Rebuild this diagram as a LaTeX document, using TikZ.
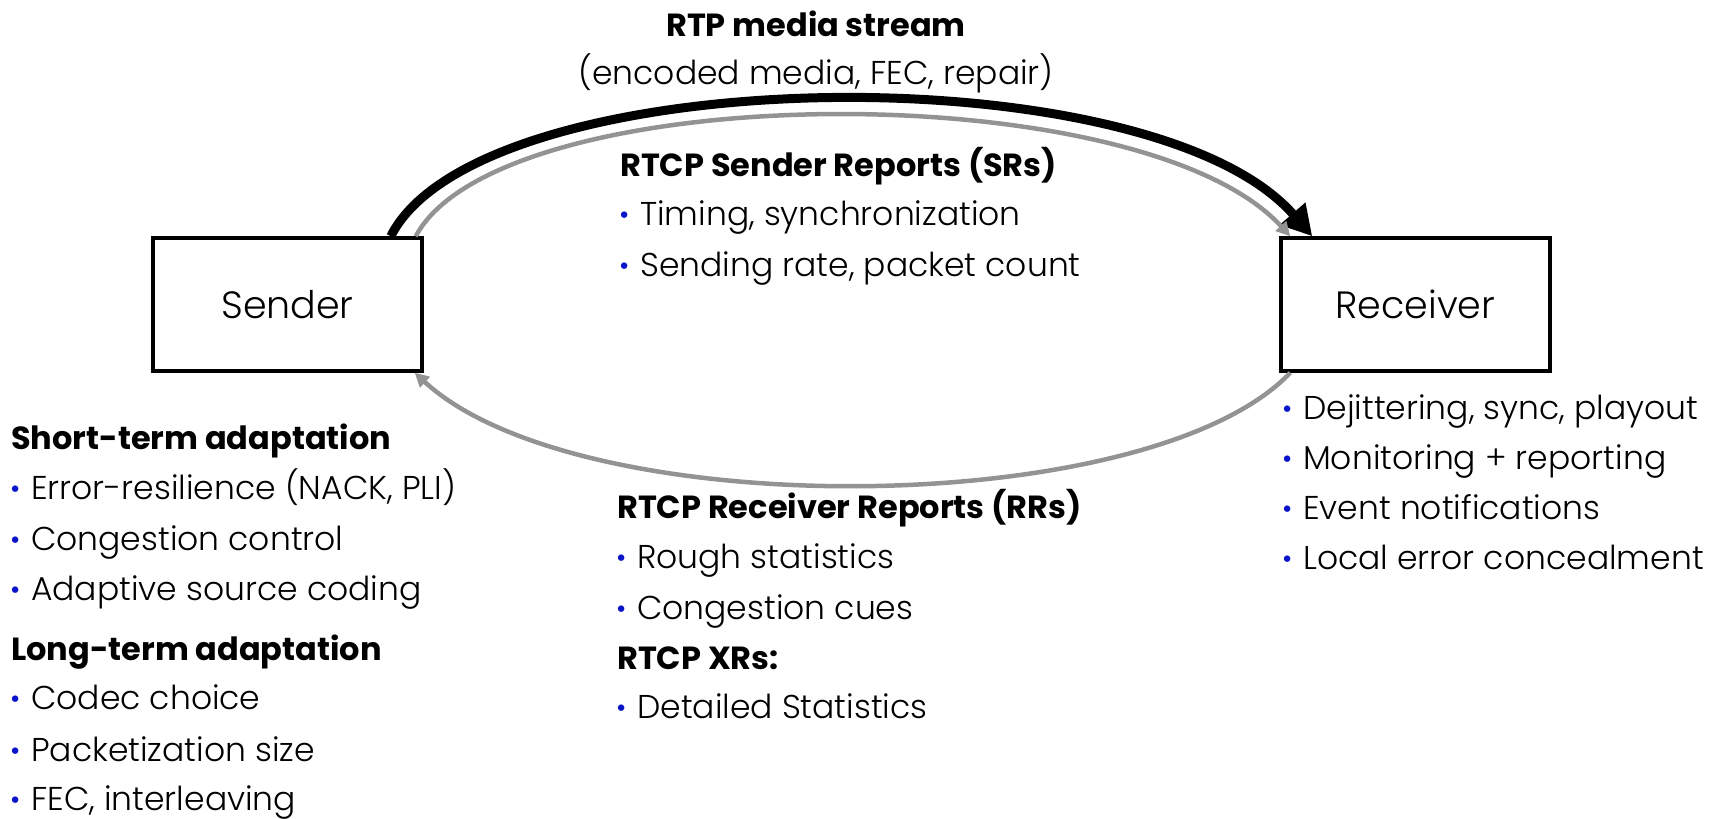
\documentclass[tikz,border=0pt]{standalone}
\usepackage{fontspec}
\setmainfont{Poppins}[UprightFont=* Light, BoldFont=* Bold]
\usetikzlibrary{arrows.meta}
\definecolor{bblue}{HTML}{0A14C8}
\definecolor{lgray}{HTML}{939393}
% blue list bullet followed by the item text
\newcommand\bul{\makebox[20pt][l]{\hspace{-1pt}\textcolor{bblue}{\fontsize{28}{28}\selectfont\raisebox{1pt}{•}}}}

\begin{document}
\begin{tikzpicture}[x=1pt,y=-1pt,
  txt/.style={anchor=base west, inner sep=0pt, font=\fontsize{33}{38}\selectfont},
  hdr/.style={anchor=base west, inner sep=0pt, font=\fontsize{32}{38}\selectfont\bfseries},
  box/.style={draw, line width=3.5pt, minimum width=269pt, minimum height=133pt,
    inner sep=0pt, font=\fontsize{38}{44}\selectfont},
  media/.style={line width=9pt, -{Triangle[length=30pt,width=32pt]}},
  ctrl/.style={draw=lgray, line width=4.5pt, -{Triangle[length=14pt,width=14pt]}}
]
\useasboundingbox (0,0) rectangle (1717,819);

% endpoints
\node[box] (sender) at (287.5,304.5) {Sender};
\node[box] (receiver) at (1415.5,304.5) {Receiver};

% RTP media and RTCP feedback paths
\draw[media] ([xshift=-33pt]sender.north east)
  .. controls (480,60) and (1150,50) .. ([xshift=33pt]receiver.north west);
\draw[ctrl] ([xshift=-8pt]sender.north east)
  .. controls (500,78) and (1140,72) .. ([xshift=11pt]receiver.north west);
\draw[ctrl] ([xshift=11pt]receiver.south west)
  .. controls (1150,520) and (580,525) .. ([xshift=-9pt]sender.south east);

% media stream label
\node[hdr, anchor=base] (rtp) at (816,36) {RTP media stream};
\node[txt, anchor=base] (rtpsub) at (816,84) {(encoded media, FEC, repair)};

% sender reports
\node[hdr] (srh) at (620,176) {RTCP Sender Reports (SRs)};
\node[txt] (sr1) at (620,225) {\bul Timing, synchronization};
\node[txt] (sr2) at (620,276) {\bul Sending rate, packet count};

% receiver reports
\node[hdr] (rrh) at (617,518) {RTCP Receiver Reports (RRs)};
\node[txt] (rr1) at (617,568) {\bul Rough statistics};
\node[txt] (rr2) at (617,619) {\bul Congestion cues};
\node[hdr] (xrh) at (617,669) {RTCP XRs:};
\node[txt] (xr1) at (617,718) {\bul Detailed Statistics};

% sender-side adaptation
\node[hdr] (sth) at (11,449) {Short-term adaptation};
\node[txt] (st1) at (11,499) {\bul Error-resilience (NACK, PLI)};
\node[txt] (st2) at (11,550) {\bul Congestion control};
\node[txt] (st3) at (11,600) {\bul Adaptive source coding};
\node[hdr] (lth) at (11,660) {Long-term adaptation};
\node[txt] (lt1) at (11,709) {\bul Codec choice};
\node[txt] (lt2) at (11,761) {\bul Packetization size};
\node[txt] (lt3) at (11,810) {\bul FEC, interleaving};

% receiver-side functions
\node[txt] (rx1) at (1283,419) {\bul Dejittering, sync, playout};
\node[txt] (rx2) at (1283,469) {\bul Monitoring + reporting};
\node[txt] (rx3) at (1283,519) {\bul Event notifications};
\node[txt] (rx4) at (1283,569) {\bul Local error concealment};
\end{tikzpicture}
\end{document}
